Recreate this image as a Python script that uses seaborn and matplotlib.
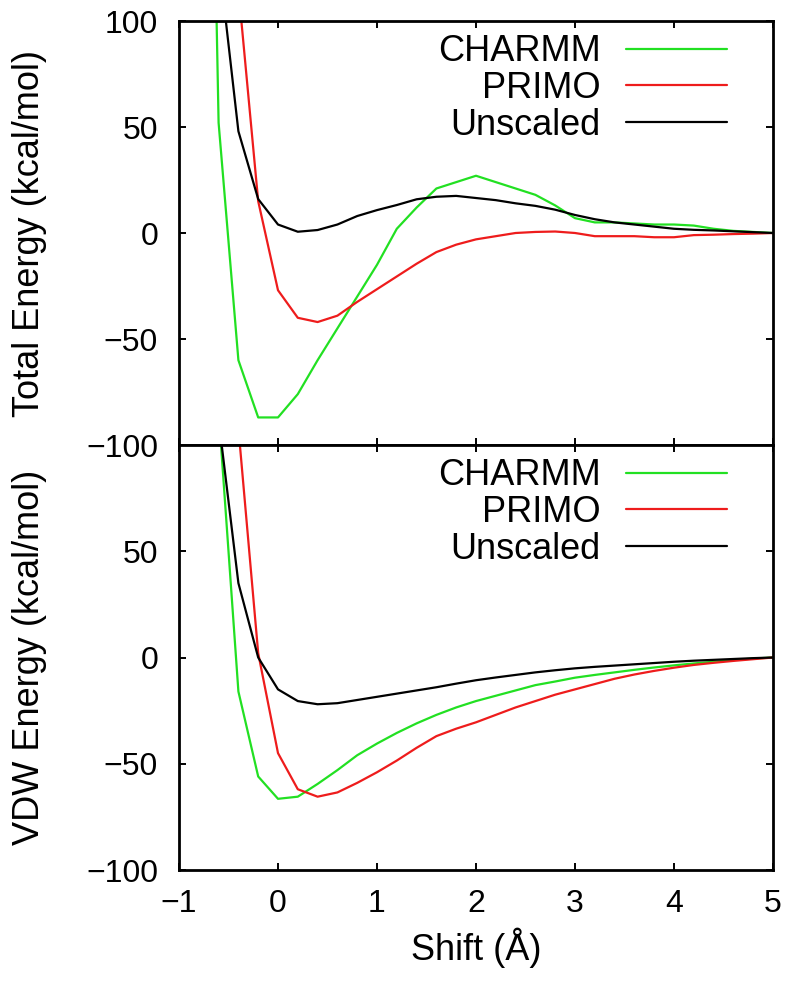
import numpy as np
import pandas as pd
import matplotlib
matplotlib.use("Agg")
import matplotlib.pyplot as plt
import seaborn as sns

# ---------------- data ----------------
shift = [-0.8, -0.6, -0.4, -0.2, 0.0, 0.2, 0.4, 0.6, 0.8, 1.0,
         1.2, 1.4, 1.6, 1.8, 2.0, 2.2, 2.4, 2.6, 2.8, 3.0,
         3.2, 3.4, 3.6, 3.8, 4.0, 4.2, 4.4, 4.6, 4.8, 5.0]

total_charmm = [530, 52, -60, -87, -87, -76, -60, -45, -30, -15,
                2, 12, 21, 24, 27, 24, 21, 18, 13, 7,
                5, 5, 4.5, 4, 4, 3.5, 2, 1, 0.5, 0]
total_primo = [400, 230, 115, 15, -27, -40, -42, -39, -32.5, -26.5,
               -20.5, -14.5, -9, -5.5, -3, -1.5, 0, 0.5, 0.7, 0,
               -1.5, -1.5, -1.5, -2, -2, -1, -0.8, -0.5, -0.3, 0]
total_unscaled = [250, 130, 48, 16, 4, 0.6, 1.4, 4, 8, 10.8,
                  13.2, 15.9, 17.1, 17.5, 16.5, 15.5, 14, 12.8, 11, 8.5,
                  6.5, 5, 4, 3, 2, 1.5, 1.2, 0.8, 0.4, 0]

vdw_charmm = [400, 116, -16, -56, -66.5, -65.5, -59.5, -53, -46, -40.5,
              -35.5, -31, -27, -23.5, -20.5, -18, -15.5, -13, -11.3, -9.5,
              -8.2, -7, -5.8, -4.7, -3.7, -2.8, -2, -1.2, -0.5, 0]
vdw_primo = [500, 250, 108, 2, -45, -62, -65.5, -63.5, -59, -54,
             -48.5, -42.5, -37, -33.5, -30.5, -27, -23.5, -20.5, -17.5, -15,
             -12.5, -10, -8, -6.3, -4.8, -3.5, -2.5, -1.6, -0.8, 0]
vdw_unscaled = [300, 112, 35, 0, -15, -20.5, -22, -21.5, -20, -18.5,
                -17, -15.5, -14, -12.3, -10.7, -9.4, -8.2, -7, -6, -5.1,
                -4.4, -3.8, -3.2, -2.6, -2, -1.5, -1.1, -0.7, -0.3, 0]

series_names = ["CHARMM", "PRIMO", "Unscaled"]
series_colors = ["#22e022", "#ee1c1c", "#000000"]

x_ticks = [-1, 0, 1, 2, 3, 4, 5]
y_ticks = [-100, -50, 0, 50, 100]
top_ylabel = "Total Energy (kcal/mol)"
bottom_ylabel = "VDW Energy (kcal/mol)"
xlabel = "Shift (Å)"

# ---------------- style ----------------
sns.set_style("white")
plt.rcParams["font.family"] = ["Liberation Sans", "DejaVu Sans"]
plt.rcParams["axes.unicode_minus"] = True
plt.rcParams["text.color"] = "black"
plt.rcParams["axes.labelcolor"] = "black"
plt.rcParams["xtick.color"] = "black"
plt.rcParams["ytick.color"] = "black"

fig = plt.figure(figsize=(7.96, 9.93), dpi=100)
left, right = 179 / 796, 773 / 796
ax_top = fig.add_axes([left, 1 - 445 / 993, right - left, (445 - 21) / 993])
ax_bot = fig.add_axes([left, 1 - 870 / 993, right - left, (870 - 445) / 993])

panels = [
    (ax_top, [total_charmm, total_primo, total_unscaled], top_ylabel),
    (ax_bot, [vdw_charmm, vdw_primo, vdw_unscaled], bottom_ylabel),
]

for ax, vals, ylab in panels:
    for name, col, v in zip(series_names, series_colors, vals):
        sns.lineplot(x=shift, y=v, ax=ax, color=col, label=name,
                     linewidth=1.6, sort=True, estimator=None)
    ax.set_xlim(-1, 5)
    ax.set_ylim(-100, 100)
    ax.set_xticks(x_ticks)
    ax.set_yticks(y_ticks)
    ax.tick_params(axis="both", which="both", direction="in", length=5,
                   width=1.4, top=True, right=True, bottom=True, left=True,
                   labelsize=23, colors="black", labelcolor="black")
    ax.tick_params(axis="y", pad=15)
    ax.tick_params(axis="x", pad=14)
    for sp in ax.spines.values():
        sp.set_linewidth(2.0)
        sp.set_color("black")
    ax.set_ylabel(ylab, fontsize=26, color="black")
    ax.yaxis.set_label_coords(-0.222, 0.5)
    leg = ax.legend(loc="upper right", bbox_to_anchor=(0.9226, 0.969),
                    frameon=False, markerfirst=False, fontsize=26,
                    handlelength=2.8, handletextpad=0.7, labelspacing=0.05,
                    borderpad=0, borderaxespad=0, labelcolor="black")
    for line in leg.get_lines():
        line.set_linewidth(1.6)

ax_top.set_xlabel("")
ax_top.tick_params(axis="x", labelbottom=False)
ax_top.set_yticklabels([str(t).replace("-", "\u2212") for t in y_ticks])
ax_bot.set_yticklabels([str(t).replace("-", "\u2212") if t != 100 else ""
                        for t in y_ticks])
ax_bot.set_xticklabels([str(t).replace("-", "\u2212") for t in x_ticks])
ax_bot.set_xlabel(xlabel, fontsize=26, labelpad=6, color="black")

fig.savefig("out.png", dpi=100, facecolor="white")
